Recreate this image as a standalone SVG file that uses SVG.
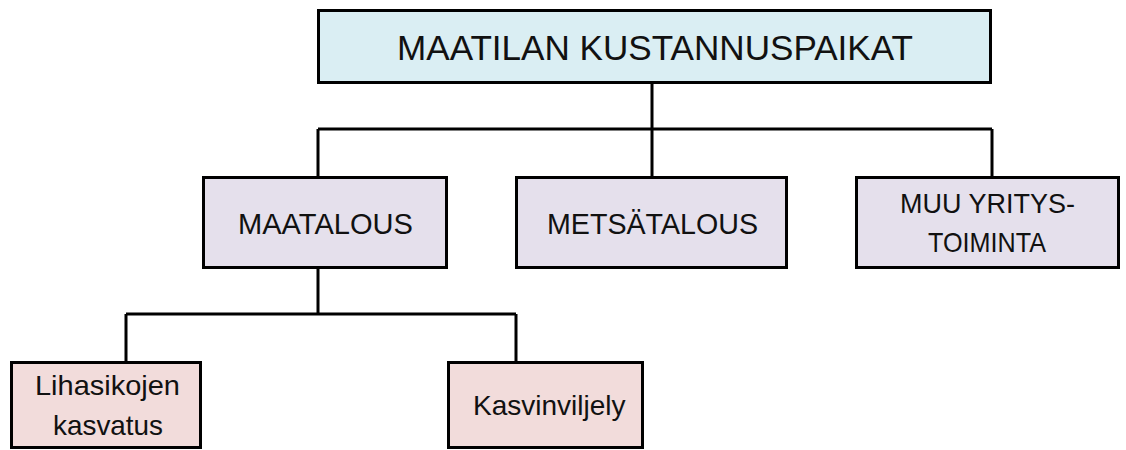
<svg xmlns="http://www.w3.org/2000/svg" width="1126" height="450" viewBox="0 0 1126 450">
<style>
  .box { stroke: #000; stroke-width: 3; }
  .top { fill: #DAEEF3; }
  .mid { fill: #E5E0EC; }
  .low { fill: #F2DCDB; }
  .conn { fill: none; stroke: #000; stroke-width: 3; }
  text { font-family: "Liberation Sans", Arial, sans-serif; fill: #111; }
</style>
<rect x="0" y="0" width="1126" height="450" fill="#fff"/>
<g id="connectors">
  <path class="conn" d="M652 83 V129 M318 129 H992 M318 129 V176 M652 129 V176 M992 129 V176"/>
  <path class="conn" d="M318 268 V314 M126 314 H516 M126 314 V361 M516 314 V361"/>
</g>
<g id="root">
  <rect class="box top" x="318.5" y="10.5" width="672" height="72"/>
  <text x="397" y="60" font-size="35" textLength="516" lengthAdjust="spacingAndGlyphs">MAATILAN KUSTANNUSPAIKAT</text>
</g>
<g id="maatalous">
  <rect class="box mid" x="203.5" y="177.5" width="243" height="90"/>
  <text x="238" y="234" font-size="29" textLength="175" lengthAdjust="spacingAndGlyphs">MAATALOUS</text>
</g>
<g id="metsatalous">
  <rect class="box mid" x="516.5" y="177.5" width="270" height="90"/>
  <text x="547" y="234" font-size="29" textLength="211" lengthAdjust="spacingAndGlyphs">METSÄTALOUS</text>
</g>
<g id="muu">
  <rect class="box mid" x="856.5" y="177.5" width="262" height="90"/>
  <text x="900" y="213" font-size="28" textLength="175" lengthAdjust="spacingAndGlyphs">MUU YRITYS-</text>
  <text x="928" y="252" font-size="28" textLength="118" lengthAdjust="spacingAndGlyphs">TOIMINTA</text>
</g>
<g id="lihasikojen">
  <rect class="box low" x="11.5" y="362.5" width="189" height="85"/>
  <text x="35" y="395" font-size="28" textLength="145" lengthAdjust="spacingAndGlyphs">Lihasikojen</text>
  <text x="53" y="435" font-size="28" textLength="110" lengthAdjust="spacingAndGlyphs">kasvatus</text>
</g>
<g id="kasvinviljely">
  <rect class="box low" x="448.5" y="362.5" width="194" height="85"/>
  <text x="473" y="415" font-size="28">Kasvinviljely</text>
</g>
</svg>
